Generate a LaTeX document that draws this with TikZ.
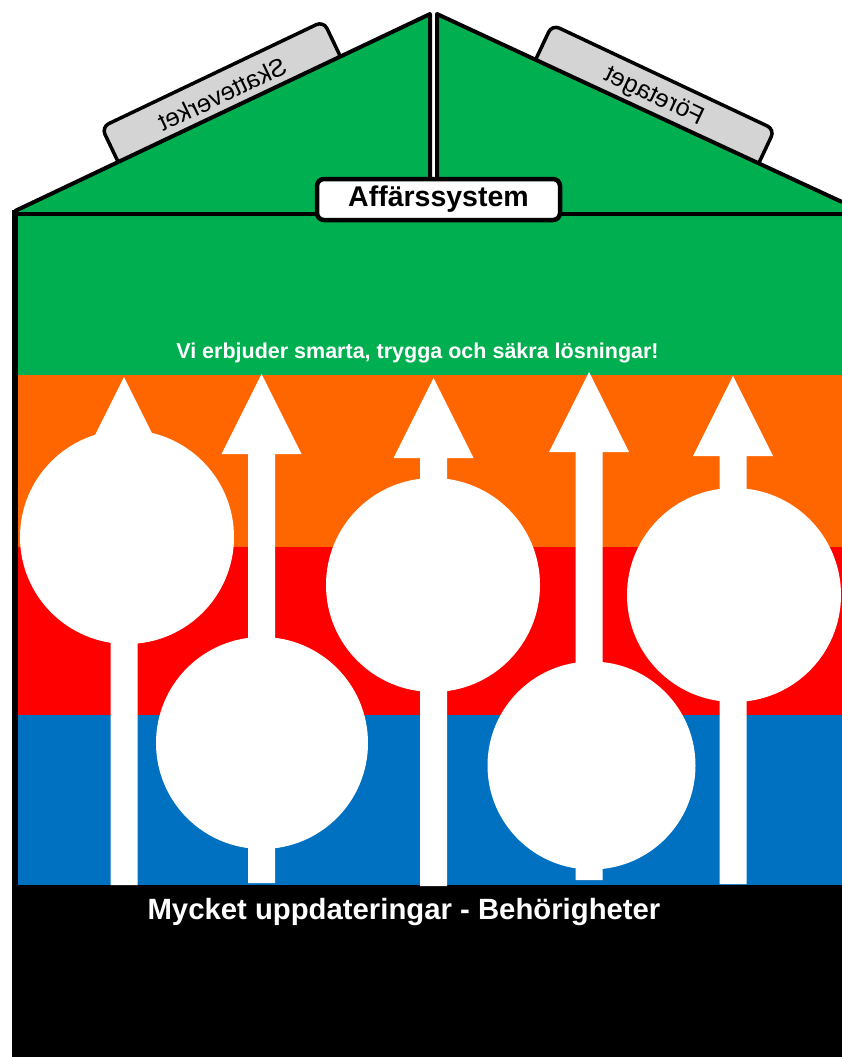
\documentclass[tikz,border=0pt]{standalone}
\usepackage{fontspec}
\setmainfont{Liberation Sans}
\usetikzlibrary{positioning, calc}

\definecolor{roofgreen}{RGB}{0,176,80}
\definecolor{bandorange}{RGB}{255,102,0}
\definecolor{bandred}{RGB}{255,0,0}
\definecolor{bandblue}{RGB}{0,112,192}
\definecolor{taggray}{RGB}{212,212,212}

\begin{document}
\begin{tikzpicture}[
      x=1pt, y=-1pt,
      roof/.style={draw=black, line width=4pt, line join=round},
      tag/.style={rectangle, draw, line width=3.5pt, rounded corners=8pt, fill=taggray, minimum width=246pt, minimum height=44pt, inner sep=0pt, font=\fontsize{25}{27}\selectfont},
      title/.style={rectangle, draw, line width=4.5pt, rounded corners=7pt, fill=white, minimum width=243pt, minimum height=41pt, inner sep=0pt, font=\bfseries\fontsize{28.5}{30}\selectfont},
      bubble/.style={circle, fill=white, inner sep=0pt},
      slogan/.style={text=white, inner sep=0pt, font=\bfseries\fontsize{21.5}{23}\selectfont},
      footer/.style={text=white, inner sep=0pt, font=\bfseries\fontsize{29.3}{31}\selectfont}
    ]
    \useasboundingbox (0,0) rectangle (842,1057);

    % tags behind the roof
    \node[tag, rotate=25.5] (skatt) at (222,94) {\scalebox{-1}[1]{Skatteverket}};
    \node[tag, rotate=-25.2] (foretag) at (654,97) {\scalebox{-1}[1]{Företaget}};

    % roof
    \fill[roofgreen] (15,212) -- (430,14) -- (430,214) -- (15,214) -- cycle;
    \fill[roofgreen] (437,14) -- (842,202) -- (842,214) -- (437,214) -- cycle;
    \draw[roof] (15,211) -- (430,14) -- (430,214);
    \draw[roof] (437,214) -- (437,14) -- (842,202);

    % bands
    \fill[roofgreen] (18,214) rectangle (842,375);
    \fill[bandorange] (18,375) rectangle (842,547);
    \fill[bandred] (18,547) rectangle (842,715);
    \fill[bandblue] (18,715) rectangle (842,885);
    \fill[black] (12,885) rectangle (842,1057);
    \draw[line width=4pt] (13,214) -- (842,214);
    \draw[line width=6pt] (15,210) -- (15,1057);

    \node[title] (system) at (438.5,199.5) {Affärssystem};

    % arrows
    \foreach \ax/\ay/\tip in {124/885/377, 261.5/883/374, 433.5/886/378, 589/880/372, 733/884/376}
      \fill[white] (\ax-13.5,\ay) -- (\ax-13.5,\tip+80) -- (\ax-40,\tip+80) -- (\ax,\tip)
        -- (\ax+40,\tip+80) -- (\ax+13.5,\tip+80) -- (\ax+13.5,\ay) -- cycle;

    % circles
    \foreach \cx/\cy/\d/\n in {127/537/214/a, 262/743/212/b, 433/585/214/c, 591.5/765.5/208/d, 734/595/214/e}
      \node[bubble, minimum size=\d pt] (bubble\n) at (\cx,\cy) {};

    \node[slogan] (slogan) at (417.5,353) {Vi erbjuder smarta, trygga och säkra lösningar!};
    \node[footer] (footer) at (404,912) {Mycket uppdateringar - Behörigheter};
\end{tikzpicture}
\end{document}
